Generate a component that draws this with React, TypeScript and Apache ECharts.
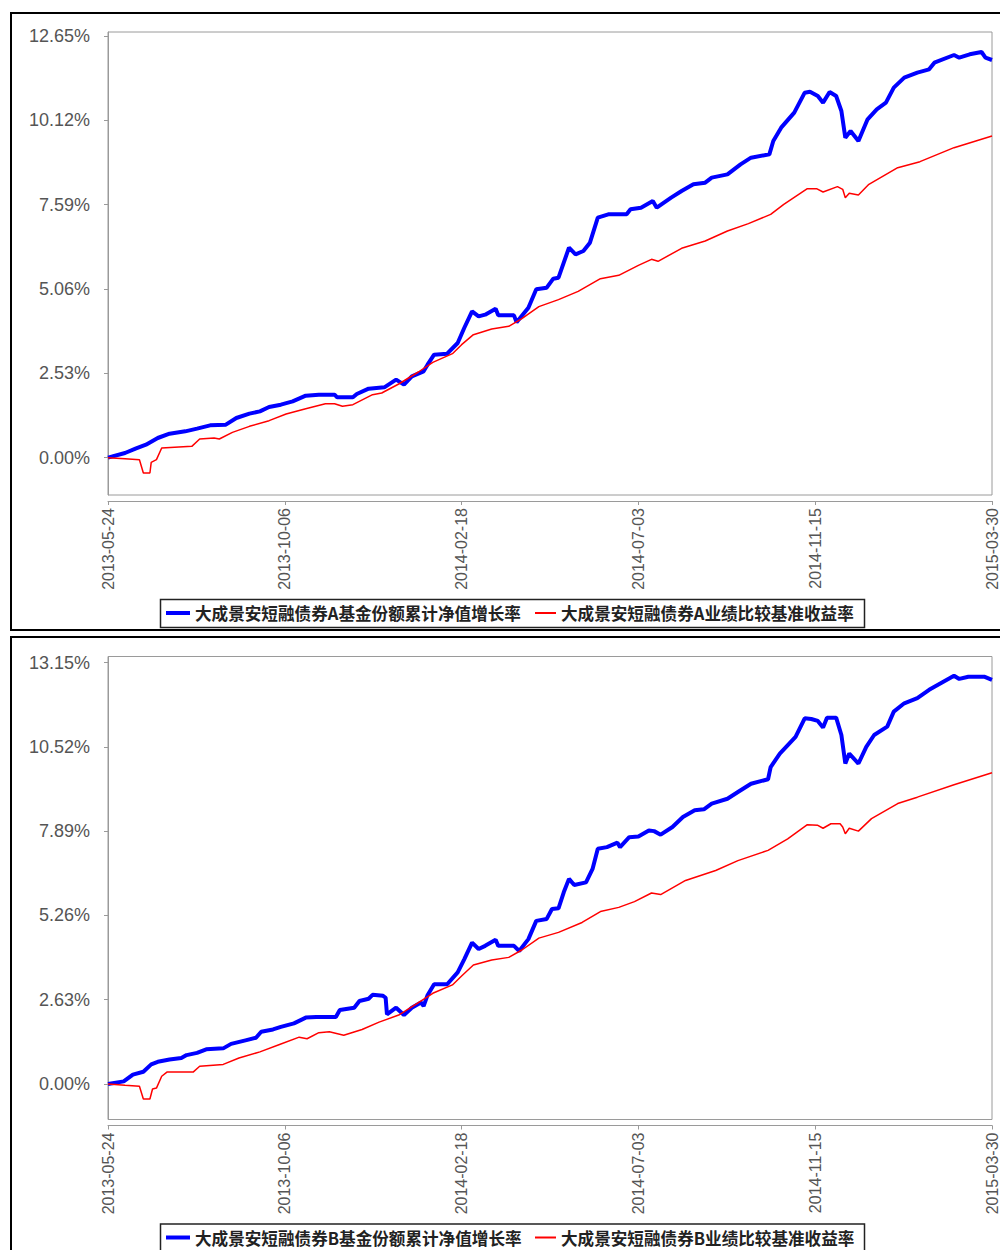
import React, { useEffect, useRef } from "react";
import * as echarts from "echarts";

// ---------- data ----------
const START_DATE = "2013-05-24";
const X_MAX_DAYS = 675; // 2015-03-30
const X_STEP_DAYS = 135;

const nameNavA = "大成景安短融债券A基金份额累计净值增长率";
const nameBmA = "大成景安短融债券A业绩比较基准收益率";
const nameNavB = "大成景安短融债券B基金份额累计净值增长率";
const nameBmB = "大成景安短融债券B业绩比较基准收益率";

const yTicksA = [0, 2.53, 5.06, 7.59, 10.12, 12.65];
const yTicksB = [0, 2.63, 5.26, 7.89, 10.52, 13.15];

// [days since 2013-05-24, cumulative return %]
const navA: [number, number][] = [
  [0, 0.0], [13, 0.14], [21, 0.27], [29, 0.39], [38, 0.59], [47, 0.72], [59, 0.79], [68, 0.87],
  [78, 0.97], [90, 0.99], [98, 1.19], [108, 1.32], [116, 1.39], [123, 1.52], [132, 1.59],
  [141, 1.69], [151, 1.86], [161, 1.89], [173, 1.89], [175, 1.81], [187, 1.81], [190, 1.91],
  [199, 2.07], [211, 2.11], [220, 2.34], [226, 2.19], [232, 2.44], [241, 2.59], [244, 2.79],
  [249, 3.09], [259, 3.12], [267, 3.44], [272, 3.89], [278, 4.39], [283, 4.24], [288, 4.29],
  [296, 4.47], [298, 4.27], [310, 4.27], [312, 4.06], [321, 4.5], [327, 5.05], [335, 5.1],
  [340, 5.37], [344, 5.4], [348, 5.85], [352, 6.3], [357, 6.1], [363, 6.2], [368, 6.45],
  [374, 7.2], [382, 7.3], [396, 7.3], [399, 7.45], [407, 7.5], [416, 7.7], [419, 7.5],
  [430, 7.8], [438, 8.0], [447, 8.2], [456, 8.25], [461, 8.4], [473, 8.5], [483, 8.8],
  [491, 9.0], [505, 9.1], [508, 9.5], [514, 9.9], [524, 10.35], [532, 10.95], [536, 10.98],
  [542, 10.85], [546, 10.65], [551, 10.97], [556, 10.85], [560, 10.4], [563, 9.6], [567, 9.8],
  [573, 9.5], [580, 10.15], [587, 10.45], [594, 10.65], [600, 11.1], [608, 11.4], [618, 11.55],
  [627, 11.65], [631, 11.85], [646, 12.08], [650, 12.0], [658, 12.1], [667, 12.17], [670, 12.0],
  [675, 11.93],
];

const bmA: [number, number][] = [
  [0, 0.0], [13, -0.03], [24, -0.06], [27, -0.46], [32, -0.46], [33, -0.14], [37, -0.06],
  [41, 0.29], [64, 0.34], [70, 0.56], [81, 0.59], [85, 0.56], [95, 0.76], [108, 0.94],
  [123, 1.11], [136, 1.31], [151, 1.47], [166, 1.62], [173, 1.62], [179, 1.54], [187, 1.59],
  [202, 1.89], [209, 1.94], [222, 2.21], [237, 2.57], [248, 2.86], [263, 3.12], [270, 3.39],
  [279, 3.69], [293, 3.86], [306, 3.94], [316, 4.17], [329, 4.53], [344, 4.74], [359, 4.99],
  [376, 5.37], [390, 5.47], [405, 5.77], [415, 5.95], [420, 5.89], [438, 6.28], [456, 6.5],
  [473, 6.8], [489, 7.02], [506, 7.3], [516, 7.6], [534, 8.07], [541, 8.07], [546, 7.97],
  [557, 8.13], [561, 8.05], [563, 7.8], [566, 7.93], [573, 7.88], [581, 8.2], [603, 8.7],
  [620, 8.88], [646, 9.3], [675, 9.65],
];

const navB: [number, number][] = [
  [0, 0.0], [12, 0.08], [19, 0.29], [27, 0.38], [33, 0.61], [38, 0.69], [47, 0.76], [56, 0.81],
  [60, 0.9], [68, 0.97], [75, 1.08], [88, 1.11], [94, 1.25], [105, 1.36], [113, 1.44],
  [117, 1.63], [126, 1.7], [132, 1.78], [142, 1.89], [151, 2.07], [159, 2.09], [174, 2.09],
  [177, 2.31], [188, 2.38], [192, 2.59], [199, 2.66], [202, 2.78], [210, 2.75], [212, 2.69],
  [213, 2.17], [220, 2.38], [226, 2.15], [232, 2.38], [239, 2.54], [241, 2.43], [244, 2.77],
  [249, 3.11], [259, 3.11], [267, 3.48], [272, 3.89], [278, 4.41], [283, 4.21], [288, 4.31],
  [296, 4.5], [298, 4.31], [310, 4.31], [314, 4.15], [321, 4.52], [327, 5.09], [335, 5.15],
  [339, 5.46], [344, 5.48], [348, 5.98], [352, 6.4], [356, 6.21], [365, 6.29], [370, 6.71],
  [374, 7.34], [381, 7.39], [389, 7.53], [391, 7.39], [398, 7.7], [405, 7.72], [413, 7.91],
  [417, 7.89], [422, 7.78], [431, 8.02], [439, 8.33], [448, 8.54], [455, 8.57], [461, 8.75],
  [473, 8.9], [481, 9.11], [491, 9.37], [504, 9.51], [506, 9.89], [513, 10.31], [525, 10.83],
  [532, 11.41], [537, 11.39], [542, 11.33], [546, 11.12], [549, 11.43], [556, 11.43],
  [560, 10.89], [563, 10.0], [566, 10.31], [573, 10.0], [579, 10.52], [585, 10.89],
  [595, 11.15], [600, 11.62], [608, 11.88], [618, 12.04], [627, 12.3], [646, 12.74],
  [650, 12.64], [657, 12.71], [669, 12.71], [675, 12.61],
];

const bmB: [number, number][] = [
  [0, 0.0], [13, -0.04], [24, -0.07], [27, -0.47], [32, -0.47], [34, -0.16], [37, -0.13],
  [41, 0.24], [45, 0.37], [65, 0.37], [70, 0.55], [88, 0.61], [100, 0.81], [116, 1.0],
  [131, 1.23], [146, 1.46], [152, 1.41], [161, 1.6], [169, 1.63], [180, 1.52], [194, 1.7],
  [207, 1.93], [222, 2.15], [237, 2.54], [248, 2.83], [263, 3.09], [270, 3.37], [279, 3.71],
  [293, 3.87], [306, 3.95], [316, 4.18], [329, 4.55], [344, 4.73], [362, 5.04], [376, 5.38],
  [390, 5.51], [402, 5.69], [415, 5.96], [422, 5.91], [441, 6.35], [464, 6.66], [481, 6.97],
  [504, 7.29], [519, 7.65], [534, 8.09], [542, 8.07], [546, 7.98], [552, 8.12], [559, 8.12],
  [561, 8.02], [563, 7.81], [566, 7.98], [573, 7.89], [583, 8.28], [603, 8.75], [618, 8.95],
  [646, 9.34], [675, 9.71],
];

// ---------- helpers ----------
const pad = (n: number) => (n < 10 ? "0" + n : "" + n);
const startMs = Date.parse(START_DATE + "T00:00:00Z");
const dayToDate = (d: number) => {
  const t = new Date(startMs + Math.round(d) * 86400000);
  return `${t.getUTCFullYear()}-${pad(t.getUTCMonth() + 1)}-${pad(t.getUTCDate())}`;
};

const AXIS_GRAY = "#9a9a9a";
const LABEL_GRAY = "#555555";
const PANEL_SHIFT = 624.5;

function buildPanel(idx: number, top: number, yMin: number, yMax: number, ticks: number[]) {
  const xAxis = {
    type: "value",
    gridIndex: idx,
    min: 0,
    max: X_MAX_DAYS,
    interval: X_STEP_DAYS,
    offset: 6,
    axisLine: { show: true, onZero: false, lineStyle: { color: AXIS_GRAY, width: 1 } },
    axisTick: { show: true, length: 4, lineStyle: { color: AXIS_GRAY } },
    splitLine: { show: false },
    axisLabel: {
      rotate: 90,
      margin: 7,
      color: LABEL_GRAY,
      fontFamily: "Liberation Sans, Arial, sans-serif",
      fontSize: 16,
      formatter: (v: number) => dayToDate(v),
    },
  };
  const yAxis = {
    type: "value",
    gridIndex: idx,
    min: yMin,
    max: yMax,
    offset: 6,
    axisLine: { show: true, lineStyle: { color: AXIS_GRAY, width: 1 } },
    axisTick: { show: true, length: 4, customValues: ticks, lineStyle: { color: AXIS_GRAY } },
    splitLine: { show: false },
    axisLabel: {
      customValues: ticks,
      margin: 12,
      color: LABEL_GRAY,
      fontFamily: "Liberation Sans, Arial, sans-serif",
      fontSize: 18,
      formatter: (v: number) => v.toFixed(2) + "%",
    },
  };
  const grid = {
    left: 108,
    top,
    width: 887,
    height: 463,
    show: true,
    backgroundColor: "#ffffff",
    borderColor: AXIS_GRAY,
    borderWidth: 1,
  };
  return { xAxis, yAxis, grid };
}

export default function App() {
  const ref = useRef<HTMLDivElement>(null);

  useEffect(() => {
    if (!ref.current) return;
    const chart = echarts.init(ref.current, null, { renderer: "svg" });

    const p1 = buildPanel(0, 32, -1.12, 12.77, yTicksA);
    const p2 = buildPanel(1, 32 + PANEL_SHIFT, -1.11, 13.34, yTicksB);

    const legendText = {
      fontFamily: "Noto Sans CJK SC, sans-serif",
      fontSize: 16.6,
      fontWeight: "bold",
      color: "#222222",
      lineHeight: 20,
    };

    const mkLegend = (name: string, left: number, top: number, h: number, w: number) => ({
      data: [name],
      left,
      top,
      padding: 0,
      icon: "rect",
      itemWidth: w,
      itemHeight: h,
      itemGap: 0,
      selectedMode: false,
      textStyle: legendText,
    });

    const lineSeries = (name: string, data: [number, number][], idx: number, color: string, width: number) => ({
      name,
      type: "line",
      xAxisIndex: idx,
      yAxisIndex: idx,
      data,
      showSymbol: false,
      symbol: "none",
      color,
      lineStyle: { color, width },
      emphasis: { disabled: true },
    });

    const legendTop1 = 603;
    const legendTop2 = legendTop1 + PANEL_SHIFT;

    chart.setOption({
      animation: false,
      backgroundColor: "#ffffff",
      grid: [p1.grid, p2.grid],
      xAxis: [p1.xAxis, p2.xAxis],
      yAxis: [p1.yAxis, p2.yAxis],
      legend: [
        mkLegend(nameNavA, 166, legendTop1, 4, 24),
        mkLegend(nameBmA, 535, legendTop1, 2, 21),
        mkLegend(nameNavB, 166, legendTop2, 4, 24),
        mkLegend(nameBmB, 535, legendTop2, 2, 21),
      ],
      series: [
        lineSeries(nameNavA, navA, 0, "#0000ff", 4),
        lineSeries(nameBmA, bmA, 0, "#ff0000", 1.5),
        lineSeries(nameNavB, navB, 1, "#0000ff", 4),
        lineSeries(nameBmB, bmB, 1, "#ff0000", 1.5),
      ],
      graphic: [
        { type: "rect", silent: true, z: 100, shape: { x: 11, y: 13, width: 1000, height: 617 }, style: { fill: "none", stroke: "#000", lineWidth: 2 } },
        { type: "rect", silent: true, z: 100, shape: { x: 11, y: 637, width: 1000, height: 640 }, style: { fill: "none", stroke: "#000", lineWidth: 2 } },
        { type: "rect", silent: true, z: 100, shape: { x: 160.5, y: 599.5, width: 704, height: 28 }, style: { fill: "none", stroke: "#222", lineWidth: 1.5 } },
        { type: "rect", silent: true, z: 100, shape: { x: 160.5, y: 599.5 + PANEL_SHIFT, width: 704, height: 28 }, style: { fill: "none", stroke: "#222", lineWidth: 1.5 } },
      ],
    });

    return () => chart.dispose();
  }, []);

  return (
    <div
      ref={ref}
      style={{ position: "absolute", left: 0, top: 0, width: 1000, height: 1250, overflow: "hidden", background: "#fff" }}
    />
  );
}
